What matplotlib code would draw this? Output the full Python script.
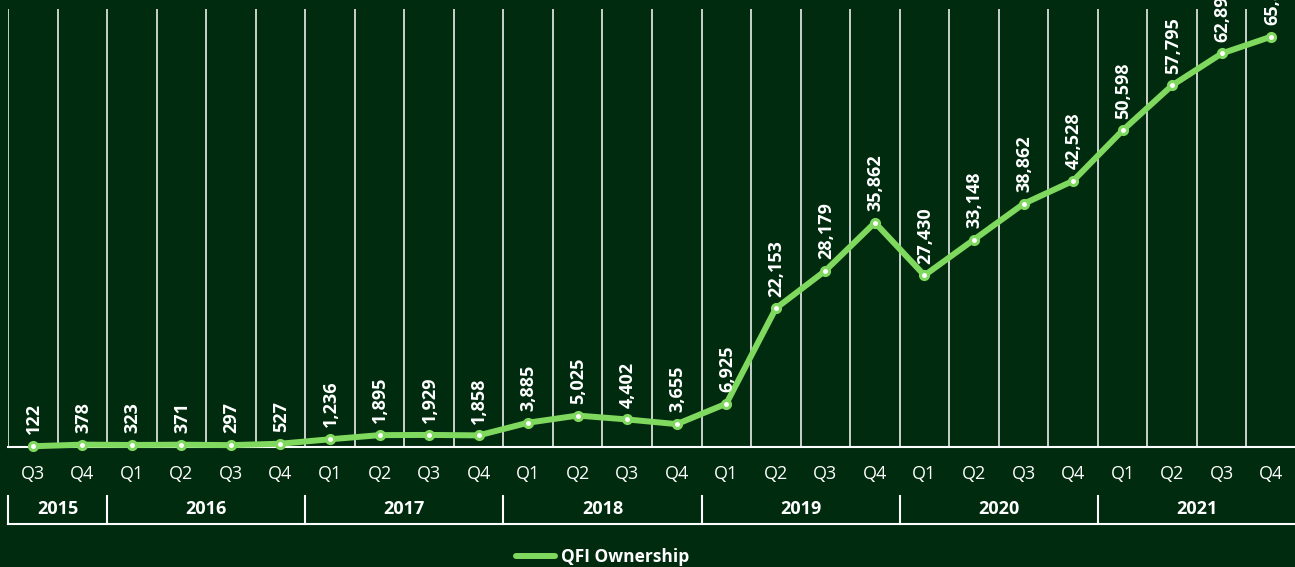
import matplotlib
matplotlib.use("Agg")
import matplotlib.pyplot as plt
import matplotlib.transforms as mtransforms

# quarters and the year each belongs to
quarters = ["Q3", "Q4",
            "Q1", "Q2", "Q3", "Q4",
            "Q1", "Q2", "Q3", "Q4",
            "Q1", "Q2", "Q3", "Q4",
            "Q1", "Q2", "Q3", "Q4",
            "Q1", "Q2", "Q3", "Q4",
            "Q1", "Q2", "Q3", "Q4"]
years = ["2015"] * 2 + ["2016"] * 4 + ["2017"] * 4 + ["2018"] * 4 + \
        ["2019"] * 4 + ["2020"] * 4 + ["2021"] * 4

# QFI ownership values
qfi_values = [122, 378, 323, 371, 297, 527, 1236, 1895, 1929, 1858,
              3885, 5025, 4402, 3655, 6925, 22153, 28179, 35862, 27430,
              33148, 38862, 42528, 50598, 57795, 62890, 65580]

BG = "#002B0E"
GREEN = "#80D95F"
FONT = "Open Sans"

plt.rcParams["font.family"] = [FONT, "DejaVu Sans"]

fig = plt.figure(figsize=(12.95, 5.67), dpi=100, facecolor=BG)
W, H = 1295, 567
ax = fig.add_axes([8 / W, 1 - 447 / H, 1 - 8 / W + 1 / W, (447 - 9) / H])
ax.set_facecolor(BG)

x = list(range(len(qfi_values)))
ax.plot(x, qfi_values, color=GREEN, linewidth=4.3, marker="o",
        markersize=5.8, markerfacecolor="white", markeredgecolor=GREEN,
        markeredgewidth=2.2, label="QFI Ownership", zorder=3,
        solid_capstyle="round", clip_on=False)

# data labels
for xi, v in zip(x, qfi_values):
    ax.annotate(f"{v:,}", (xi, v), xytext=(0.5, 8.5), textcoords="offset points",
                rotation=90, ha="center", va="bottom", color="white",
                fontsize=13, fontweight="bold", annotation_clip=False)

ax.set_xlim(-0.5, len(x) - 0.5)
ax.set_ylim(0, 70000)

# vertical gridlines between quarters
for b in range(len(x)):
    ax.axvline(b - 0.5, color="white", linewidth=1.1, zorder=1)

for s in ["top", "right", "left"]:
    ax.spines[s].set_visible(False)
ax.spines["bottom"].set_color("white")
ax.spines["bottom"].set_linewidth(1.5)

ax.set_yticks([])
ax.set_xticks(x)
ax.set_xticklabels(quarters, color="white", fontsize=13)
ax.tick_params(axis="x", length=0, pad=13)

# year grouping row
trans = mtransforms.blended_transform_factory(ax.transData, ax.transAxes)
y_top, y_bot, y_lab = -0.112, -0.176, -0.142
groups = []
for i, yr in enumerate(years):
    if not groups or groups[-1][0] != yr:
        groups.append([yr, i, i])
    else:
        groups[-1][2] = i
for yr, start, end in groups:
    ax.plot([start - 0.5, start - 0.5], [y_top, y_bot], color="white",
            linewidth=1.5, transform=trans, clip_on=False)
    ax.text((start + end) / 2, y_lab, yr, transform=trans, ha="center",
            va="center", color="white", fontsize=13, fontweight="bold")
ax.plot([-0.5, len(x) - 0.5], [y_bot, y_bot], color="white", linewidth=1.5,
        transform=trans, clip_on=False)

leg = fig.legend(loc="center", bbox_to_anchor=(603 / W, 1 - 557 / H),
                 frameon=False, handlelength=2.2, handletextpad=0.4,
                 prop={"family": FONT, "weight": "bold", "size": 12.5})
for t in leg.get_texts():
    t.set_color("white")
for h in leg.legend_handles:
    h.set_marker("")

fig.savefig("out.png", dpi=100, facecolor=BG)
